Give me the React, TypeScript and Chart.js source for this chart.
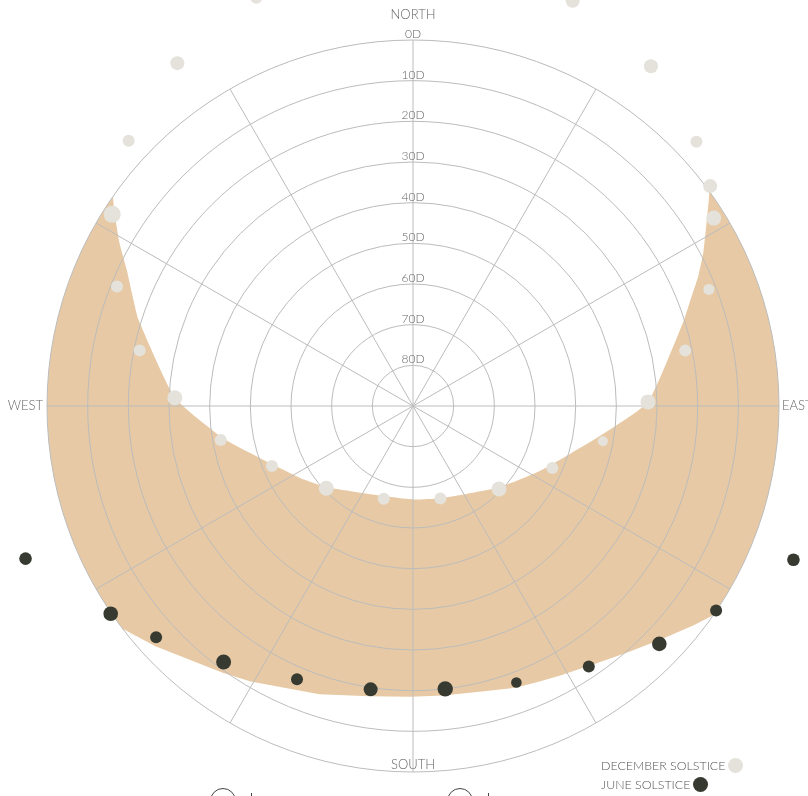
import React, { useEffect, useRef } from 'react';
import { Chart, registerables } from 'chart.js';

// ---- data (azimuth: degrees clockwise from north, altitude: degrees) ----
const DEC_AZ = [21.7, 35.0, 47.0, 53.3, 58.0, 68.3, 78.3, 88.9, 100.3, 114.2, 134.1, 163.5, 197.6, 226.5, 246.8, 259.8, 271.8, 281.7, 291.9, 302.3, 313.2, 325.6, 338.8];
const DEC_ALT = [-17.1, -12.0, -5.3, -0.9, 2.8, 11.8, 21.7, 32.2, 42.5, 52.5, 60.6, 66.3, 66.1, 60.6, 52.3, 42.0, 31.4, 21.4, 11.5, 2.3, -5.6, -12.3, -17.5];
const DEC_SIZE = [7, 7, 6, 7, 7.5, 5.5, 6, 7.5, 5, 6, 7.5, 6, 6, 7.5, 6, 6, 7.5, 6, 6, 8.5, 6, 7, 6];

const JUNE_AZ = [111.85, 123.9, 133.8, 145.95, 159.4, 173.7, 188.7, 202.8, 216.7, 228.2, 235.7, 248.5];
const JUNE_ALT = [-10.9, 0.1, 5.8, 12.7, 17.4, 20.0, 19.55, 17.0, 11.7, 5.0, -0.2, -12.4];
const JUNE_SIZE = [6.3, 6, 7.3, 6, 5.3, 7.7, 7, 6, 7.5, 6, 7.3, 6.3];

// inner edge of the shaded band (December path curve)
const DEC_EDGE_AZ = [21.7, 35.0, 47.0, 54.05, 57.6, 62.2, 65.5, 68.5, 72.3, 88.9, 99.0, 117.2, 133.7, 163.5, 179.8, 198.0, 226.5, 237.6, 259.8, 271.8, 287.5, 291.9, 295.5, 299.1, 305.1, 313.2, 325.6, 338.8];
const DEC_EDGE_ALT = [-17.1, -12.0, -5.3, 0, 4.3, 9.1, 12.9, 16.35, 20.2, 32.2, 43.4, 54.9, 60.9, 66.35, 67.0, 66.7, 61.0, 57.1, 43.0, 31.4, 19.2, 15.4, 12.0, 7.5, 0, -5.6, -12.3, -17.5];

// outer edge of the shaded band (June path curve);
// the last points lie beyond the picture's edge and close the band round the far side
const JUNE_EDGE_AZ = [111.85, 124.25, 128.15, 133.4, 139.1, 145.1, 151.3, 155.3, 159.8, 165.5, 173.8, 180.3, 188.5, 197.9, 210.6, 215.5, 227.0, 232.35, 248.5, 260, 275, 295, 325, 0, 35, 65, 85, 100];
const JUNE_EDGE_ALT = [-10.9, -0.3, 2.4, 6.4, 9.7, 12.5, 14.5, 15.5, 16.3, 17.6, 18.4, 18.5, 17.85, 15.5, 11.35, 9.4, 3.4, 0.0, -12.4, -22, -33, -45, -57, -62, -57, -45, -33, -22];

const RING_TICKS = [0, 10, 20, 30, 40, 50, 60, 70, 80];
const DIRECTIONS = ['NORTH', 'EAST', 'SOUTH', 'WEST'];
const SERIES_NAMES = ['DECEMBER SOLSTICE', 'JUNE SOLSTICE'];

// ---- styles / layout ----
const STEPS = 720; // half-degree azimuth categories
const LABELS = Array.from({ length: STEPS }, (_, i) => `${i / 2}`);
const TAN = '#e7caa5';
const LIGHT = '#e4e2db';
const DARK = '#373a30';
const GRID = '#bcbcbc';
const TEXT = '#666666';
const FONT = 'Lato, "Open Sans", "DejaVu Sans", sans-serif';
const PLOT_CX = 413;
const PLOT_CY = 406;
const PLOT_R = 366;

function toSeries(az: number[], alt: number[]) {
  const out: (number | null)[] = new Array(STEPS).fill(null);
  az.forEach((a, i) => {
    out[Math.round(a * 2) % STEPS] = alt[i];
  });
  return out;
}
function toSizes(az: number[], size: number[]) {
  const out: number[] = new Array(STEPS).fill(0);
  az.forEach((a, i) => {
    out[Math.round(a * 2) % STEPS] = size[i];
  });
  return out;
}

// clip the shaded band to the horizon circle (registered before the Filler plugin)
const clipOn = {
  id: 'bandClipOn',
  beforeDraw(chart: any) {
    const s = chart.scales.r;
    const ctx = chart.ctx;
    ctx.save();
    ctx.beginPath();
    ctx.arc(s.xCenter, s.yCenter, s.drawingArea, 0, Math.PI * 2);
    ctx.clip();
  },
};
const clipOff = {
  id: 'bandClipOff',
  beforeDraw(chart: any) {
    chart.ctx.restore();
  },
};

Chart.register(clipOn as any);
Chart.register(...registerables);

const textPlugin = {
  id: 'compassText',
  afterDraw(chart: any) {
    const s = chart.scales.r;
    const ctx = chart.ctx;
    const xc = s.xCenter;
    const yc = s.yCenter;
    const R = s.drawingArea;
    ctx.save();
    ctx.fillStyle = TEXT;
    ctx.textBaseline = 'middle';
    ctx.textAlign = 'center';
    ctx.font = `300 12px ${FONT}`;
    RING_TICKS.forEach((v) => {
      ctx.fillText(`${v}D`, xc, yc - s.getDistanceFromCenterForValue(v) - 6);
    });
    ctx.font = `300 13px ${FONT}`;
    ctx.fillText(DIRECTIONS[0], xc, yc - R - 25);
    ctx.fillText(DIRECTIONS[2], xc, yc + R - 7);
    ctx.textAlign = 'left';
    ctx.fillText(DIRECTIONS[1], xc + R + 3, yc);
    ctx.textAlign = 'right';
    ctx.fillText(DIRECTIONS[3], xc - R - 4, yc);
    ctx.restore();
  },
};

function SunPath() {
  const ref = useRef<HTMLCanvasElement | null>(null);
  useEffect(() => {
    if (!ref.current) return;
    const chart = new Chart(ref.current, {
      type: 'radar',
      data: {
        labels: LABELS,
        datasets: [
          {
            label: SERIES_NAMES[1],
            data: toSeries(JUNE_AZ, JUNE_ALT),
            showLine: false,
            fill: false,
            spanGaps: true,
            pointRadius: toSizes(JUNE_AZ, JUNE_SIZE),
            pointBackgroundColor: DARK,
            pointBorderColor: DARK,
            pointBorderWidth: 0,
            pointHitRadius: 0,
          },
          {
            label: SERIES_NAMES[0],
            data: toSeries(DEC_AZ, DEC_ALT),
            showLine: false,
            fill: false,
            spanGaps: true,
            pointRadius: toSizes(DEC_AZ, DEC_SIZE),
            pointBackgroundColor: LIGHT,
            pointBorderColor: LIGHT,
            pointBorderWidth: 0,
            pointHitRadius: 0,
          },
          {
            // inside of the December curve: cleared back to white
            label: 'dec-edge',
            data: toSeries(DEC_EDGE_AZ, DEC_EDGE_ALT),
            showLine: false,
            fill: 'shape',
            backgroundColor: '#ffffff',
            spanGaps: true,
            tension: 0.15,
            pointRadius: 0,
            pointHitRadius: 0,
          },
          {
            // inside of the June curve: shaded band
            label: 'june-edge',
            data: toSeries(JUNE_EDGE_AZ, JUNE_EDGE_ALT),
            showLine: false,
            fill: 'shape',
            backgroundColor: TAN,
            spanGaps: true,
            tension: 0,
            pointRadius: 0,
            pointHitRadius: 0,
          },
        ] as any,
      },
      options: {
        responsive: false,
        animation: false,
        events: [],
        layout: { padding: 0 },
        elements: { line: { capBezierPoints: false } },
        scales: {
          r: {
            min: 0,
            max: 90,
            reverse: true,
            ticks: { display: false, stepSize: 10 },
            pointLabels: { display: false },
            grid: { circular: true, color: GRID, lineWidth: 1 },
            angleLines: {
              display: true,
              color: GRID,
              lineWidth: (c: any) => (c.index % 60 === 0 ? 1 : 0),
            },
            afterFit: (s: any) => {
              s.xCenter = PLOT_CX;
              s.yCenter = PLOT_CY;
              s.drawingArea = PLOT_R;
            },
          },
        },
        plugins: {
          legend: { display: false },
          tooltip: { enabled: false },
          filler: { drawTime: 'beforeDraw' },
        },
      } as any,
      plugins: [clipOff as any, textPlugin as any],
    });
    return () => chart.destroy();
  }, []);
  return (
    <canvas
      ref={ref}
      width={808}
      height={796}
      style={{ position: 'absolute', left: 0, top: 0, width: 808, height: 796, display: 'block' }}
    />
  );
}

const legendRow = (top: number, text: string, color: string) => (
  <div
    style={{
      position: 'absolute',
      left: 601,
      top,
      height: 18,
      display: 'flex',
      alignItems: 'center',
      gap: 3,
      fontFamily: FONT,
      fontWeight: 300,
      fontSize: 12.4,
      color: '#555',
      whiteSpace: 'nowrap',
    }}
  >
    <span>{text}</span>
    <span style={{ display: 'inline-block', width: 15, height: 15, borderRadius: '50%', background: color }} />
  </div>
);

export default function App() {
  return (
    <div
      style={{
        position: 'fixed',
        left: 0,
        top: 0,
        width: 808,
        height: 796,
        overflow: 'hidden',
        background: '#fff',
      }}
    >
      <SunPath />
      {legendRow(756.5, SERIES_NAMES[0], LIGHT)}
      {legendRow(775, SERIES_NAMES[1], DARK)}
      <div style={{ position: 'absolute', left: 210, top: 788, width: 24, height: 24, borderRadius: '50%', border: '1px solid #444' }} />
      <div style={{ position: 'absolute', left: 251, top: 793, width: 1, height: 4, background: '#444' }} />
      <div style={{ position: 'absolute', left: 447, top: 788, width: 24, height: 24, borderRadius: '50%', border: '1px solid #444' }} />
      <div style={{ position: 'absolute', left: 488, top: 793, width: 1, height: 4, background: '#444' }} />
    </div>
  );
}
